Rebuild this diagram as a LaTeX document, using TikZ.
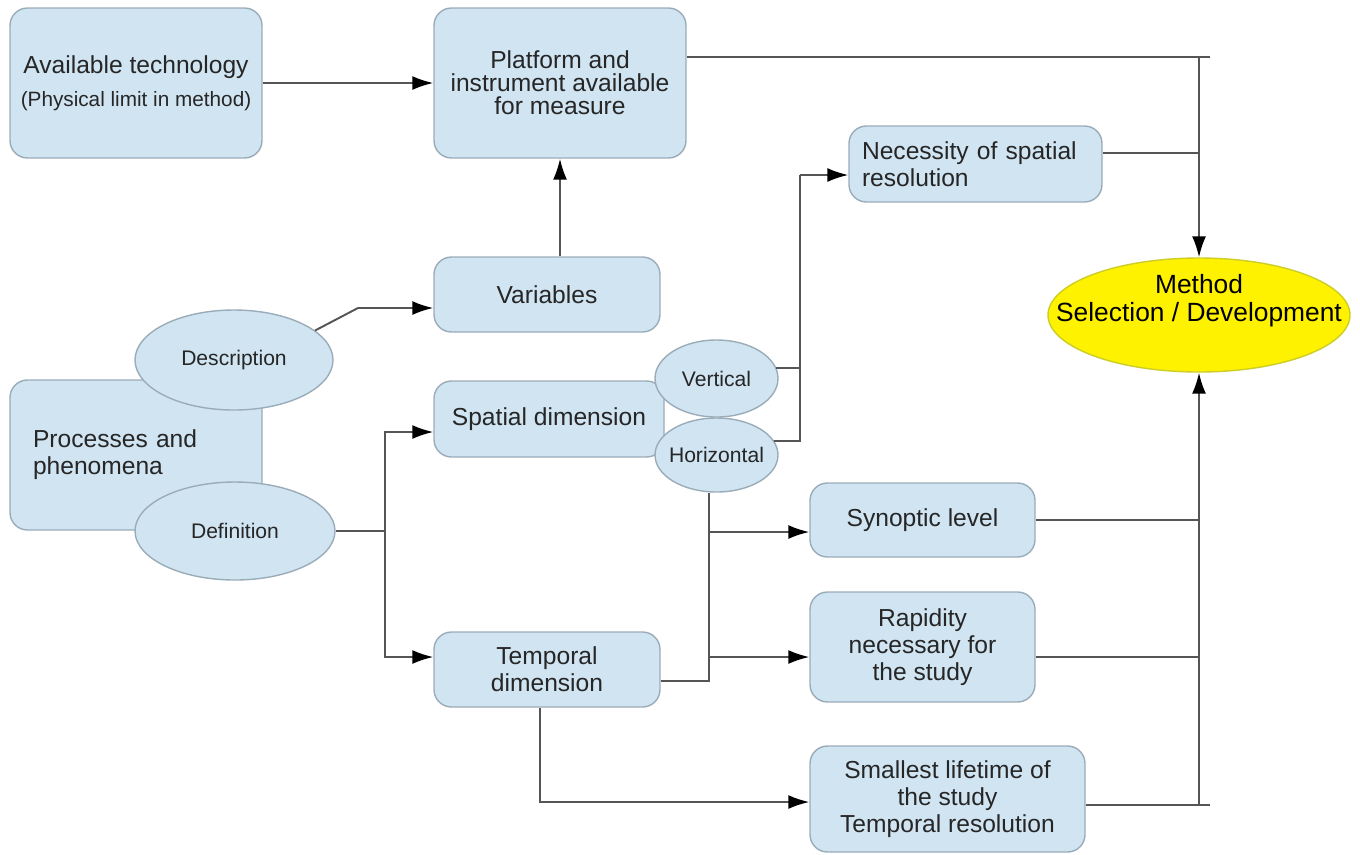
\documentclass[tikz,border=0pt]{standalone}
\usepackage{fontspec}
\setmainfont{Liberation Sans}
\usetikzlibrary{shapes.geometric, arrows.meta, positioning}
\definecolor{boxblue}{RGB}{208,228,242}
\definecolor{boxedge}{RGB}{155,172,185}
\definecolor{wirec}{RGB}{85,85,85}
\definecolor{methodedge}{RGB}{205,205,40}
\newcommand{\nowidth}[1]{\makebox[0pt]{#1}}
\tikzset{
  blok/.style={draw=boxedge, fill=boxblue, rounded corners=0.35cm, line width=0.8pt,
               align=center, inner sep=2pt, text=black!85,
               font=\fontsize{14}{15.5}\selectfont},
  oval/.style={ellipse, draw=boxedge, fill=boxblue, line width=0.8pt, inner sep=0pt,
               text=black!85, font=\fontsize{12}{14}\selectfont},
  wire/.style={draw=wirec, line width=1.1pt}
}

\begin{document}
\begin{tikzpicture}[>={Latex[length=4.2mm,width=2.8mm,color=black]}]
\useasboundingbox (0,0) rectangle (27.2,-17.08);

\node[blok, minimum width=5.04cm, minimum height=3cm] (tech) at (2.72,-1.66)
  {Available technology\\[3.5pt]{\fontsize{11.8}{13}\selectfont (Physical limit in method)}};
\node[blok, minimum width=5.04cm, minimum height=3cm, font=\fontsize{14}{13.2}\selectfont] (plat) at (11.2,-1.66)
  {Platform and\\instrument available\\for measure};
\node[blok, minimum width=5.06cm, minimum height=1.52cm, align=left, text width=4.54cm, inner xsep=0.26cm] (nec) at (19.51,-3.28)
  {Necessity of spatial\\resolution};
\node[blok, minimum width=4.52cm, minimum height=1.5cm] (var) at (10.94,-5.89) {Variables};
\node[blok, minimum width=5.04cm, minimum height=3cm, align=left, text width=4.12cm, inner xsep=0.46cm] (proc) at (2.72,-9.1)
  {Processes and\\phenomena};
\node[oval, minimum width=3.96cm, minimum height=2cm] (desc) at (4.68,-7.2) {\nowidth{Description}};
\node[oval, minimum width=4cm, minimum height=1.96cm] (def) at (4.7,-10.62) {\nowidth{Definition}};
\node[blok, minimum width=4.6cm, minimum height=1.52cm] (spat) at (10.98,-8.38) {Spatial dimension};
\node[blok, minimum width=4.52cm, minimum height=1.5cm] (temp) at (10.94,-13.39) {Temporal\\dimension};
\node[oval, minimum width=2.46cm, minimum height=1.54cm] (vert) at (14.33,-7.57) {\nowidth{Vertical}};
\node[oval, minimum width=2.46cm, minimum height=1.48cm] (hor) at (14.33,-9.1) {\nowidth{Horizontal}};
\node[blok, minimum width=4.5cm, minimum height=1.48cm] (syn) at (18.45,-10.4) {Synoptic level};
\node[blok, minimum width=4.5cm, minimum height=2.2cm] (rap) at (18.45,-12.94) {Rapidity\\necessary for\\the study};
\node[blok, minimum width=5.5cm, minimum height=2.12cm] (small) at (18.95,-15.98)
  {Smallest lifetime of\\the study\\Temporal resolution};
\node[oval, fill=yellow, draw=methodedge, minimum width=6.04cm, minimum height=2.28cm,
      text=black, font=\fontsize{15}{16}\selectfont] (method) at (23.98,-6.3)
  {\raisebox{0.13cm}[0pt][0pt]{\nowidth{\begin{tabular}{@{}c@{}}Method\\Selection / Development\end{tabular}}}};

% junction points
\coordinate (dv) at (7.16,-6.16);
\coordinate (dsplit) at (7.7,-10.62);
\coordinate (vh) at (16,-3.5);
\coordinate (tj) at (14.18,-13.62);
\coordinate (synin) at ([yshift=-0.24cm]syn.west);
\coordinate (rapin) at ([yshift=-0.2cm]rap.west);
\coordinate (necout) at ([yshift=0.22cm]nec.east);
\coordinate (rapout) at ([yshift=-0.2cm]rap.east);
\coordinate (bustop) at (24.2,-1.14);
\coordinate (busbot) at (24.2,-16.1);

\draw[wire,->] (tech) -- (plat);
\draw[wire,->] (var.north -| plat.south) -- (plat.south);
\draw[wire,->] (desc.20) -- (dv) -- (dv -| var.west);

\draw[wire] (def.east) -- (dsplit);
\draw[wire,->] (dsplit) |- ([yshift=-0.26cm]spat.west);
\draw[wire,->] (dsplit) |- ([yshift=0.25cm]temp.west);

\draw[wire] (vert.10) -- (vert.10 -| vh);
\draw[wire] (hor.14) -| (vh);
\draw[wire,->] (vh) -- (vh -| nec.west);

\draw[wire] ([yshift=-0.23cm]temp.east) -- (tj) -- (tj |- hor.south);
\draw[wire,->] (tj |- synin) -- (synin);
\draw[wire,->] (tj |- rapin) -- (rapin);
\draw[wire,->] ([xshift=-0.14cm]temp.south) |- ([yshift=-0.06cm]small.west);

% collecting lines into the method
\draw[wire] (plat.east |- bustop) -- (bustop);
\draw[wire,->] (method.north |- bustop) -- (method.north);
\draw[wire] (necout) -- (necout -| method.north);
\draw[wire] (small.east |- busbot) -- (busbot);
\draw[wire,->] (method.south |- busbot) -- (method.south);
\draw[wire] (syn.east) -- (syn.east -| method.south);
\draw[wire] (rapout) -- (rapout -| method.south);
\end{tikzpicture}
\end{document}
